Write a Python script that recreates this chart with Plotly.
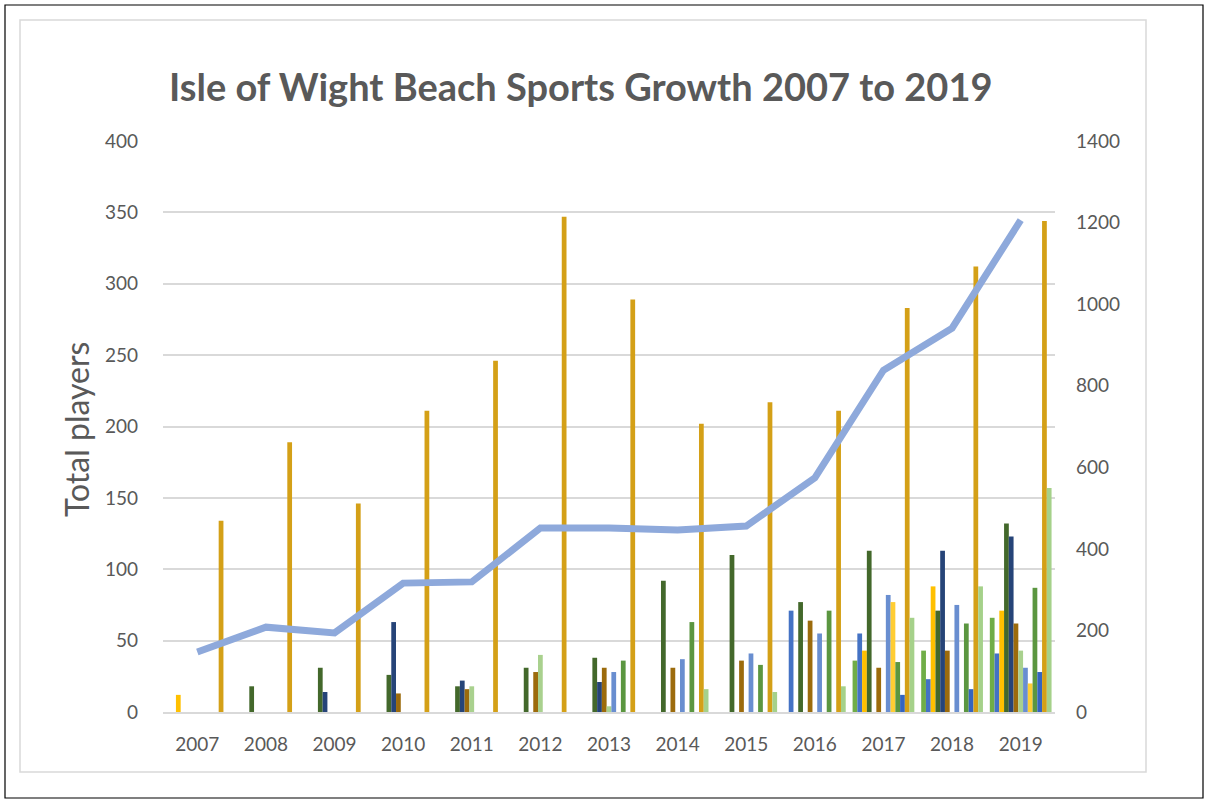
import plotly.graph_objects as go

years = ["2007", "2008", "2009", "2010", "2011", "2012", "2013",
         "2014", "2015", "2016", "2017", "2018", "2019"]

# 13 bar series (primary axis)
sport_01 = [0, 0, 0, 0, 0, 0, 0, 0, 0, 0, 36, 43, 66]
sport_02 = [0, 0, 0, 0, 0, 0, 0, 0, 0, 71, 55, 23, 41]
sport_03 = [12, 0, 0, 0, 0, 0, 0, 0, 0, 0, 43, 88, 71]
sport_04 = [0, 18, 31, 26, 18, 31, 38, 92, 110, 77, 113, 71, 132]
sport_05 = [0, 0, 14, 63, 22, 0, 21, 0, 0, 0, 0, 113, 123]
sport_06 = [0, 0, 0, 13, 16, 28, 31, 31, 36, 64, 31, 43, 62]
sport_07 = [0, 0, 0, 0, 18, 40, 4, 0, 0, 0, 0, 0, 43]
sport_08 = [0, 0, 0, 0, 0, 0, 28, 37, 41, 55, 82, 75, 31]
sport_09 = [0, 0, 0, 0, 0, 0, 0, 0, 0, 0, 77, 0, 20]
sport_10 = [0, 0, 0, 0, 0, 0, 36, 63, 33, 71, 35, 62, 87]
sport_11 = [0, 0, 0, 0, 0, 0, 0, 0, 0, 0, 12, 16, 28]
sport_12 = [134, 189, 146, 211, 246, 347, 289, 202, 217, 211, 283, 312, 344]
sport_13 = [0, 0, 0, 0, 0, 0, 0, 16, 14, 18, 66, 88, 157]

# Line series (secondary axis)
total_players = [147, 208, 194, 316, 319, 451, 451, 446, 456, 574, 838, 941, 1206]

left_ticks = [0, 50, 100, 150, 200, 250, 300, 350, 400]
right_ticks = [0, 200, 400, 600, 800, 1000, 1200, 1400]

series = [
    ("Sport 1", sport_01, "#70AD47"),
    ("Sport 2", sport_02, "#4472C4"),
    ("Sport 3", sport_03, "#FFC000"),
    ("Sport 4", sport_04, "#43682B"),
    ("Sport 5", sport_05, "#264478"),
    ("Sport 6", sport_06, "#9C6B0C"),
    ("Sport 7", sport_07, "#A9D18E"),
    ("Sport 8", sport_08, "#698ED0"),
    ("Sport 9", sport_09, "#FFCD33"),
    ("Sport 10", sport_10, "#5B9640"),
    ("Sport 11", sport_11, "#3464C0"),
    ("Sport 12", sport_12, "#D4A017"),
    ("Sport 13", sport_13, "#A5D18A"),
]

TXT = "#595959"
FONT = "Lato"

fig = go.Figure()
for name, vals, col in series:
    fig.add_trace(go.Bar(x=years, y=vals, name=name, marker_color=col,
                         marker_line_width=0, yaxis="y"))

fig.add_trace(go.Scatter(x=years, y=total_players, name="Total", mode="lines",
                         line=dict(color="#8EA9DB", width=7), yaxis="y2"))

W, H = 1208, 803
L, R, T, B = 163, 1055, 141, 712


def px_x(p):
    return (p - L) / (R - L)


def px_y(p):
    return (B - p) / (B - T)


fig.update_layout(
    width=W, height=H,
    margin=dict(l=L, r=W - R, t=T, b=H - B),
    paper_bgcolor="white", plot_bgcolor="white",
    barmode="group", bargap=0.1, bargroupgap=0.0,
    showlegend=False,
    font=dict(family=FONT, color=TXT, size=19),
    xaxis=dict(type="category", showgrid=False, showline=True,
               linecolor="#D9D9D9", linewidth=2, ticks="",
               tickfont=dict(size=19, color=TXT), ticklabelstandoff=14),
    yaxis=dict(range=[0, 400], tickvals=left_ticks, showgrid=True,
               gridcolor="#D9D9D9", gridwidth=1.5, zeroline=False,
               ticks="", tickfont=dict(size=19, color=TXT),
               ticklabelstandoff=24),
    yaxis2=dict(range=[0, 1400], tickvals=right_ticks, overlaying="y",
                side="right", showgrid=False, zeroline=False, ticks="",
                tickfont=dict(size=19, color=TXT), ticklabelstandoff=20),
    shapes=[
        dict(type="rect", xref="paper", yref="paper",
             x0=px_x(5), x1=px_x(1203), y0=px_y(798), y1=px_y(5),
             line=dict(color="black", width=1.2), layer="below"),
        dict(type="rect", xref="paper", yref="paper",
             x0=px_x(20), x1=px_x(1146), y0=px_y(772), y1=px_y(20),
             line=dict(color="#D9D9D9", width=1.5), layer="below"),
    ],
    annotations=[
        dict(text="<b>Isle of Wight Beach Sports Growth 2007 to 2019</b>",
             xref="paper", yref="paper", x=px_x(580), y=px_y(86),
             xanchor="center", yanchor="middle", showarrow=False,
             font=dict(family=FONT, size=38, color=TXT)),
        dict(text="Total players", xref="paper", yref="paper",
             x=px_x(76), y=px_y(430), xanchor="center", yanchor="middle",
             textangle=-90, showarrow=False,
             font=dict(family=FONT, size=32, color=TXT)),
    ],
)

fig.write_html("out.html", config={"displayModeBar": False},
               post_script="document.body.style.margin='0';document.body.style.overflow='hidden';")
